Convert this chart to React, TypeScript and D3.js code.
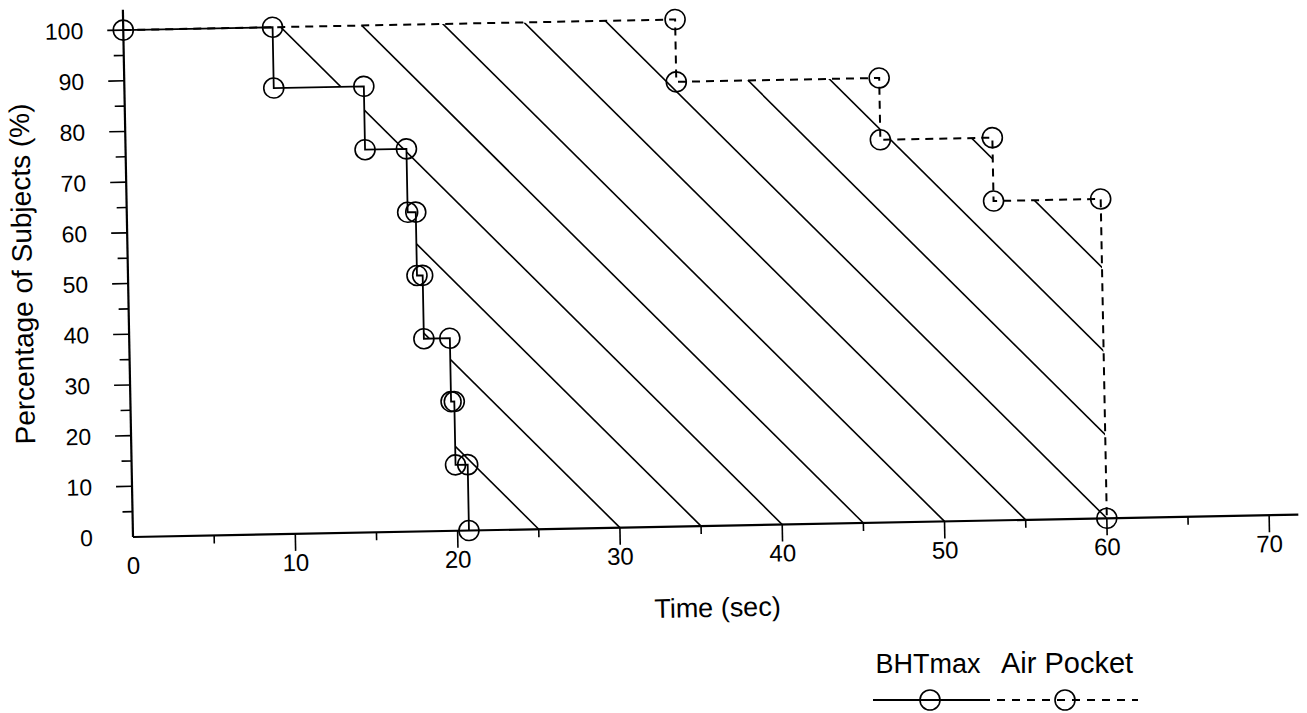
import React from "react";
import * as d3 from "d3";

// Kaplan-Meier style step data
const bhtTimes = [9.2, 14.75, 17.3, 17.8, 18.15, 19.75, 19.95, 20.7];
const bhtValues = [88, 75.5, 63, 50.5, 38, 25.5, 13, 0];
const airTimes = [34, 46.5, 53.4, 60];
const airValues = [87.7, 75.5, 63, 0];

// hatch lines between the curves: axis intercepts (sec) and slope (% per sec)
const hatchIntercepts = [25, 30, 35, 40, 45, 50, 55, 60, 65, 70, 75, 80, 85, 90, 95];
const hatchSlope = 3.3;

const xTicks = [0, 10, 20, 30, 40, 50, 60, 70];
const xMinor = [5, 15, 25, 35, 45, 55, 65];
const yTicks = [0, 10, 20, 30, 40, 50, 60, 70, 80, 90, 100];
const yMinor = [5, 15, 25, 35, 45, 55, 65, 75, 85, 95];

const W = 1307;
const H = 713;
const FONT = "'Liberation Sans', Arial, Helvetica, sans-serif";

function stepPoints(times: number[], values: number[]): [number, number][] {
  const pts: [number, number][] = [[0, 100]];
  let prev = 100;
  times.forEach((t, i) => {
    pts.push([t, prev]);
    pts.push([t, values[i]]);
    prev = values[i];
  });
  return pts;
}

export default function App() {
  const x = d3.scaleLinear().domain([0, 60]).range([133, 1107]);
  const y = d3.scaleLinear().domain([0, 100]).range([537, 30]);

  const line = d3
    .line<[number, number]>()
    .x((d) => x(d[0]))
    .y((d) => y(d[1]));

  const bhtPts = stepPoints(bhtTimes, bhtValues);
  const airPts = stepPoints(airTimes, airValues);
  const region = [...airPts, ...bhtPts.slice().reverse()];

  const r = 10;

  return (
    <svg
      width={W}
      height={H}
      style={{ position: "absolute", left: 0, top: 0, background: "#fff" }}
    >
      <defs>
        <clipPath id="between">
          <path d={line(region) + "Z"} />
        </clipPath>
      </defs>
      {/* the scan is tilted about one degree, so the whole plot is rotated */}
      <g transform="rotate(-1.1 133 537)" fontFamily={FONT} fill="none" stroke="#000">
        {/* hatching */}
        <g clipPath="url(#between)" strokeWidth={1.6}>
          {hatchIntercepts.map((c) => (
            <line
              key={c}
              x1={x(c)}
              y1={y(0)}
              x2={x(c - 110 / hatchSlope)}
              y2={y(110)}
            />
          ))}
        </g>

        {/* axes */}
        <line x1={x(0)} y1={y(0)} x2={x(71.8)} y2={y(0)} strokeWidth={2.2} />
        <line x1={x(0)} y1={y(0)} x2={x(0)} y2={y(104)} strokeWidth={2.2} />
        {xTicks
          .filter((t) => t > 0)
          .map((t) => (
            <line key={t} x1={x(t)} y1={y(0)} x2={x(t)} y2={y(0) + 17} strokeWidth={1.6} />
          ))}
        {xMinor.map((t) => (
          <line key={t} x1={x(t)} y1={y(0)} x2={x(t)} y2={y(0) + 8} strokeWidth={1.6} />
        ))}
        {yTicks
          .filter((t) => t > 0)
          .map((t) => (
            <line key={t} x1={x(0)} y1={y(t)} x2={x(0) - 16} y2={y(t)} strokeWidth={1.6} />
          ))}
        {yMinor.map((t) => (
          <line key={t} x1={x(0)} y1={y(t)} x2={x(0) - 10} y2={y(t)} strokeWidth={1.6} />
        ))}

        <g fill="#000" stroke="none" fontSize={24}>
          {xTicks.map((t) => (
            <text key={t} x={x(t)} y={y(0) + 37} textAnchor="middle">
              {t}
            </text>
          ))}
          {yTicks.map((t) => (
            <text key={t} x={x(0) - 40} y={y(t)} dy="0.36em" textAnchor="end" fontSize={23}>
              {t}
            </text>
          ))}
          <text x={716} y={628} textAnchor="middle" fontSize={27}>
            Time (sec)
          </text>
          <text
            transform="translate(37,272) rotate(-90)"
            textAnchor="middle"
            fontSize={28}
          >
            Percentage of Subjects (%)
          </text>
        </g>

        {/* Air Pocket (dashed) */}
        <path d={line(airPts) ?? ""} strokeWidth={2} strokeDasharray="8,6" />
        {/* BHTmax (solid) */}
        <path d={line(bhtPts) ?? ""} strokeWidth={1.8} />

        <g strokeWidth={1.6}>
          {bhtPts.map((d, i) => (
            <circle key={"b" + i} cx={x(d[0])} cy={y(d[1])} r={r} />
          ))}
          {airPts.slice(1).map((d, i) => (
            <circle key={"a" + i} cx={x(d[0])} cy={y(d[1])} r={r} />
          ))}
        </g>
      </g>

      {/* legend */}
      <g fontFamily={FONT} fontSize={27}>
        <text x={928} y={673} textAnchor="middle" fill="#000">
          BHTmax
        </text>
        <text x={1067} y={673} textAnchor="middle" fill="#000" fontSize={29}>
          Air Pocket
        </text>
        <line x1={873} y1={700} x2={990} y2={700} stroke="#000" strokeWidth={1.8} />
        <circle cx={930} cy={700} r={r} fill="none" stroke="#000" strokeWidth={1.6} />
        <line
          x1={997}
          y1={700}
          x2={1138}
          y2={700}
          stroke="#000"
          strokeWidth={2}
          strokeDasharray="8,7"
        />
        <circle cx={1065} cy={700} r={r} fill="none" stroke="#000" strokeWidth={1.6} />
      </g>
    </svg>
  );
}
